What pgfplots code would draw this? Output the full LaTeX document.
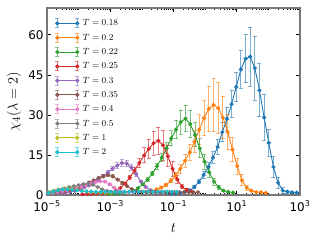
\documentclass[border=0pt]{standalone}
\usepackage{fontspec}
\setmainfont{DejaVu Sans}
\usepackage{pgfplots}
\pgfplotsset{compat=1.18}
\definecolor{c0}{HTML}{1F77B4}
\definecolor{c1}{HTML}{FF7F0E}
\definecolor{c2}{HTML}{2CA02C}
\definecolor{c3}{HTML}{D62728}
\definecolor{c4}{HTML}{9467BD}
\definecolor{c5}{HTML}{8C564B}
\definecolor{c6}{HTML}{E377C2}
\definecolor{c7}{HTML}{7F7F7F}
\definecolor{c8}{HTML}{BCBD22}
\definecolor{c9}{HTML}{17BECF}
\pgfplotsset{
  ser/.style={color=#1, mark=*, mark size=1.6pt, line width=0.9pt, mark options={solid, fill=#1}},
}
\begin{document}
\begin{tikzpicture}
\path[use as bounding box] (-47bp,-45bp) rectangle (273bp,195bp);
\begin{axis}[
  at={(0,0)}, anchor=south west,
  scale only axis, width=253bp, height=187bp,
  xmin=-5, xmax=3, ymin=0, ymax=70,
  xtick={-5,-3,-1,1,3},
  xticklabels={10\textsuperscript{−5},10\textsuperscript{−3},10\textsuperscript{−1},10\textsuperscript{1},10\textsuperscript{3}},
  minor xtick={-4.699,-4.523,-4.398,-4.301,-4.222,-4.155,-4.097,-4.046,-4,
    -3.699,-3.523,-3.398,-3.301,-3.222,-3.155,-3.097,-3.046,
    -2.699,-2.523,-2.398,-2.301,-2.222,-2.155,-2.097,-2.046,-2,
    -1.699,-1.523,-1.398,-1.301,-1.222,-1.155,-1.097,-1.046,
    -0.699,-0.523,-0.398,-0.301,-0.222,-0.155,-0.097,-0.046,0,
    0.301,0.477,0.602,0.699,0.778,0.845,0.903,0.954,
    1.301,1.477,1.602,1.699,1.778,1.845,1.903,1.954,2,
    2.301,2.477,2.602,2.699,2.778,2.845,2.903,2.954},
  ytick={0,15,30,45,60},
  tick align=inside,
  major tick length=4bp, minor tick length=2bp,
  every tick/.style={black, line width=0.5pt},
  axis line style={draw={rgb,255:red,120;green,120;blue,120}, line width=1.2pt},
  /pgf/number format/assume math mode=true,
  tick label style={font=\fontsize{12}{13}\selectfont},
  xticklabel style={yshift=-2.5bp},
  xlabel={$t$}, ylabel={$\chi_4(\lambda=2)$},
  label style={font=\fontsize{15}{17}\selectfont},
  xlabel style={at={(axis description cs:0.5,-0.176)}, anchor=center},
  ylabel style={at={(axis description cs:-0.13,0.5)}, anchor=center},
  error bars/y dir=both, error bars/y explicit,
  error bars/error bar style={opacity=0.6, line width=1pt},
  error bars/error mark options={rotate=90, mark size=2pt, opacity=0.6, line width=1pt},
  legend style={at={(0.03,0.948)}, anchor=north west, draw=none, fill=none,
    inner sep=0pt, font=\fontsize{9}{10}\selectfont, row sep=3.3bp,
    nodes={inner ysep=1bp, inner xsep=3bp, text height=7bp, text depth=2bp}},
  legend cell align=left,
  legend image code/.code={
    \draw[#1, mark=none, opacity=0.6, line width=1pt] (0bp,-4.5bp) -- (0bp,4.5bp) (20bp,-4.5bp) -- (20bp,4.5bp)
      (-2bp,-4.5bp)--(2bp,-4.5bp) (-2bp,4.5bp)--(2bp,4.5bp)
      (18bp,-4.5bp)--(22bp,-4.5bp) (18bp,4.5bp)--(22bp,4.5bp);
    \draw[#1] plot coordinates {(0bp,0bp) (20bp,0bp)};
  },
]
\addplot[ser=c0] table[x=lt,y=y,y error=e] {
lt y e
-1.074 0.5 0.1
-0.927 0.6 0.1
-0.780 0.8 0.15
-0.633 1.1 0.2
-0.486 1.7 0.3
-0.339 3.0 0.5
-0.192 5.0 0.8
-0.045 7.5 1.2
0.102 10.5 1.6
0.249 14.0 2.2
0.396 18.0 2.8
0.543 23.5 3.5
0.690 28.5 4.3
0.837 34.0 5.0
0.984 40.5 5.5
1.131 47.0 7.0
1.278 51.0 9.0
1.425 51.8 11.0
1.572 47.5 12.0
1.719 39.2 10.0
1.866 29.0 8.5
2.013 19.5 5.0
2.160 10.5 4.0
2.307 4.6 2.0
2.454 1.7 1.0
2.601 1.2 0.5
2.748 1.0 0.3
2.895 0.9 0.2
};
\addlegendentry{$T=0.18$}
\addplot[ser=c1] table[x=lt,y=y,y error=e] {
lt y e
-1.835 1.0 0.15
-1.685 1.5 0.2
-1.535 2.1 0.3
-1.385 2.8 0.4
-1.235 3.8 0.6
-1.085 5.3 0.8
-0.935 7.3 1.2
-0.785 9.8 1.8
-0.635 12.8 2.5
-0.485 16.0 3.0
-0.335 20.0 4.0
-0.185 24.5 5.5
-0.035 28.8 6.5
0.115 32.2 8.5
0.265 33.7 10.0
0.415 32.5 9.5
0.565 29.0 8.0
0.715 23.5 6.5
0.865 17.0 4.5
1.015 10.8 3.0
1.165 5.5 2.0
1.315 2.7 1.0
1.465 1.6 0.4
1.615 1.1 0.2
1.765 1.0 0.15
1.915 0.8 0.1
};
\addlegendentry{$T=0.2$}
\addplot[ser=c2] table[x=lt,y=y,y error=e] {
lt y e
-3.02 0.4 0.05
-2.87 0.5 0.05
-2.72 0.6 0.08
-2.57 0.8 0.1
-2.42 1.1 0.15
-2.27 1.5 0.2
-2.12 2.6 0.3
-1.97 4.0 0.4
-1.82 5.8 0.6
-1.67 8.0 0.8
-1.52 10.8 1.1
-1.37 14.0 1.5
-1.22 17.5 2.0
-1.07 21.2 2.8
-0.92 24.5 3.5
-0.77 27.3 4.5
-0.62 28.6 5.0
-0.47 26.5 5.0
-0.32 22.5 4.5
-0.17 17.5 3.5
-0.02 12.5 2.8
0.13 8.5 2.0
0.28 5.0 1.3
0.43 2.9 0.7
0.58 1.6 0.4
0.73 1.2 0.2
0.88 0.9 0.1
};
\addlegendentry{$T=0.22$}
\addplot[ser=c3] table[x=lt,y=y,y error=e] {
lt y e
-3.88 0.3 0.03
-3.73 0.35 0.04
-3.58 0.4 0.05
-3.43 0.5 0.05
-3.28 0.6 0.06
-3.13 0.75 0.08
-2.98 1.0 0.1
-2.83 1.5 0.15
-2.68 2.6 0.3
-2.53 4.3 0.5
-2.38 6.6 0.8
-2.23 9.2 1.2
-2.08 12.0 1.8
-1.93 14.8 2.8
-1.78 17.3 3.5
-1.63 19.4 4.5
-1.48 20.3 5.0
-1.33 18.6 5.5
-1.18 14.5 4.0
-1.03 9.8 2.8
-0.88 5.8 1.6
-0.73 3.1 0.8
-0.58 1.9 0.4
-0.43 1.3 0.2
};
\addlegendentry{$T=0.25$}
\addplot[ser=c4] table[x=lt,y=y,y error=e] {
lt y e
-4.58 0.6 0.05
-4.43 0.8 0.06
-4.28 1.1 0.08
-4.13 1.5 0.1
-3.98 2.1 0.15
-3.83 2.8 0.2
-3.68 3.6 0.25
-3.53 4.6 0.3
-3.38 5.7 0.4
-3.23 7.0 0.5
-3.08 8.4 0.6
-2.93 9.8 0.8
-2.78 11.0 1.0
-2.63 12.0 1.2
-2.48 11.8 1.3
-2.33 10.3 1.1
-2.18 7.8 0.8
-2.03 5.0 0.5
-1.88 3.0 0.3
-1.73 1.8 0.2
-1.58 1.2 0.1
-1.43 0.9 0.08
};
\addlegendentry{$T=0.3$}
\addplot[ser=c5] table[x=lt,y=y,y error=e] {
lt y e
-4.72 0.9 0.07
-4.57 1.1 0.08
-4.42 1.3 0.1
-4.27 1.7 0.12
-4.12 2.3 0.15
-3.97 2.9 0.2
-3.82 3.8 0.25
-3.67 4.7 0.3
-3.52 5.5 0.4
-3.37 6.3 0.5
-3.22 7.0 0.5
-3.07 7.4 0.6
-2.92 7.0 0.6
-2.77 5.8 0.5
-2.62 4.5 0.4
-2.47 3.3 0.3
-2.32 2.2 0.2
-2.17 1.5 0.1
-2.02 1.2 0.08
-1.87 1.1 0.07
-1.72 1.05 0.07
-1.57 1.05 0.07
-1.42 1.05 0.07
-1.27 1.05 0.07
-1.12 1.05 0.07
-0.97 1.05 0.07
-0.82 1.05 0.07
-0.67 1.05 0.07
-0.52 1.05 0.07
-0.37 1.05 0.07
-0.22 1.05 0.07
};
\addlegendentry{$T=0.35$}
\addplot[ser=c6] table[x=lt,y=y,y error=e] {
lt y e
-4.82 0.9 0.06
-4.67 1.1 0.07
-4.52 1.4 0.08
-4.37 1.7 0.1
-4.22 2.1 0.12
-4.07 2.5 0.15
-3.92 3.0 0.2
-3.77 3.6 0.25
-3.62 4.2 0.3
-3.47 4.8 0.35
-3.32 5.2 0.4
-3.17 5.0 0.4
-3.02 4.0 0.3
-2.87 2.7 0.2
-2.72 1.7 0.12
-2.57 1.2 0.08
-2.42 1.0 0.06
-2.27 0.9 0.05
};
\addlegendentry{$T=0.4$}
\addplot[ser=c7] table[x=lt,y=y,y error=e] {
lt y e
-4.90 1.0 0.06
-4.75 1.4 0.08
-4.60 1.9 0.1
-4.45 2.4 0.12
-4.30 2.9 0.15
-4.15 3.3 0.18
-4.00 3.7 0.2
-3.85 4.0 0.22
-3.70 4.2 0.25
-3.55 3.8 0.22
-3.40 3.0 0.18
-3.25 2.1 0.12
-3.10 1.5 0.1
-2.95 1.1 0.07
-2.80 0.9 0.05
-2.65 0.8 0.05
};
\addlegendentry{$T=0.5$}
\addplot[ser=c8] table[x=lt,y=y,y error=e] {
lt y e
-4.95 1.0 0.06
-4.80 1.5 0.08
-4.65 2.0 0.1
-4.50 2.3 0.12
-4.35 2.4 0.12
-4.20 2.2 0.1
-4.05 1.9 0.1
-3.90 1.6 0.08
-3.75 1.3 0.07
-3.60 1.1 0.06
-3.45 1.0 0.05
-3.30 0.9 0.05
-3.15 0.9 0.05
-3.00 0.85 0.05
};
\addlegendentry{$T=1$}
\addplot[ser=c9] table[x=lt,y=y,y error=e] {
lt y e
-4.95 0.8 0.05
-4.80 1.3 0.07
-4.65 1.8 0.1
-4.50 2.1 0.1
-4.35 2.1 0.1
-4.20 1.9 0.1
-4.05 1.7 0.08
-3.90 1.5 0.08
-3.75 1.35 0.07
-3.60 1.25 0.06
-3.45 1.2 0.06
-3.30 1.2 0.06
-3.15 1.2 0.06
-3.00 1.2 0.06
-2.85 1.2 0.06
-2.70 1.2 0.06
-2.55 1.2 0.06
-2.40 1.2 0.06
-2.25 1.2 0.06
-2.10 1.2 0.06
-1.95 1.2 0.06
-1.80 1.2 0.06
-1.65 1.2 0.06
-1.50 1.2 0.06
-1.35 1.2 0.06
-1.20 1.2 0.06
-1.05 1.2 0.06
-0.90 1.2 0.06
};
\addlegendentry{$T=2$}
\end{axis}
\end{tikzpicture}
\end{document}
